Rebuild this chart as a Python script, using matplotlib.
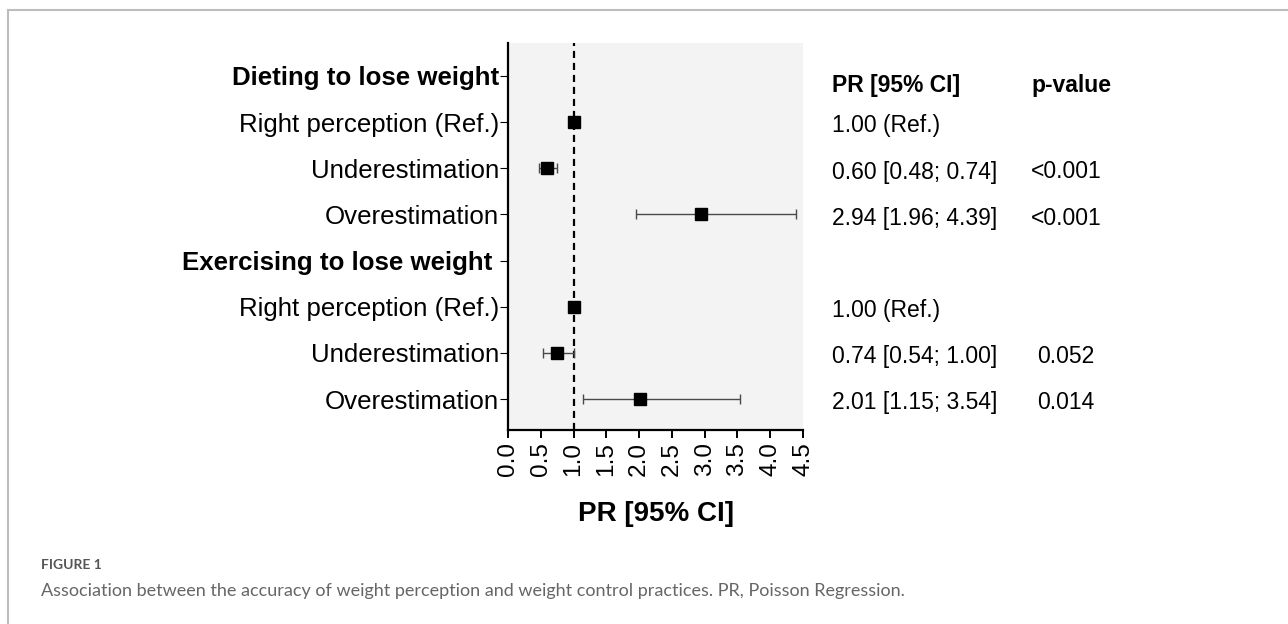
import numpy as np
import matplotlib
matplotlib.use('Agg')
import matplotlib.pyplot as plt
import matplotlib.transforms as mtransforms
from matplotlib.lines import Line2D

plt.rcParams['font.family'] = ['Liberation Sans', 'DejaVu Sans']

# Datos
labels = ["Dieting to lose weight", "Right perception (Ref.)", "Underestimation",
          "Overestimation", "Exercising to lose weight ", "Right perception (Ref.)",
          "Underestimation", "Overestimation"]
is_header = [True, False, False, False, True, False, False, False]
pr = [np.nan, 1.00, 0.60, 2.94, np.nan, 1.00, 0.74, 2.01]
ci_lo = [np.nan, np.nan, 0.48, 1.96, np.nan, np.nan, 0.54, 1.15]
ci_hi = [np.nan, np.nan, 0.74, 4.39, np.nan, np.nan, 1.00, 3.54]
pr_text = ["", "1.00 (Ref.)", "0.60 [0.48; 0.74]", "2.94 [1.96; 4.39]",
           "", "1.00 (Ref.)", "0.74 [0.54; 1.00]", "2.01 [1.15; 3.54]"]
p_text = ["", "", "<0.001", "<0.001", "", "", "0.052", "0.014"]
x_ticks = [0.0, 0.5, 1.0, 1.5, 2.0, 2.5, 3.0, 3.5, 4.0, 4.5]

W, H = 1288, 624
fig = plt.figure(figsize=(W / 100, H / 100), dpi=100)
ax = fig.add_axes([508 / W, 1 - 430 / H, 295 / W, 387 / H])
ax.set_facecolor('#f3f3f3')

y = np.arange(len(labels))
pr_a = np.array(pr)
err = np.array([pr_a - np.array(ci_lo), np.array(ci_hi) - pr_a])
err = np.nan_to_num(err, nan=0.0)

# Barras de error (solo filas con IC)
has_ci = ~np.isnan(np.array(ci_lo))
ax.errorbar(pr_a[has_ci], y[has_ci], xerr=err[:, has_ci], fmt='none',
            ecolor='#4a4a4a', elinewidth=1.0, capsize=3.6, capthick=1.0, zorder=2)
ax.plot(pr_a, y, 's', color='black', markersize=8, zorder=3, linestyle='none')

ax.axvline(1.0, color='black', linestyle=(0, (3.2, 2.2)), linewidth=1.6, zorder=1)

ax.set_xlim(0, 4.5)
ax.set_ylim(len(labels) - 1 + 0.67, -0.715)
ax.set_xticks(x_ticks)
ax.set_xticklabels([f'{v:.1f}' for v in x_ticks], rotation=90, fontsize=17.6)
ax.set_yticks(y)
ax.set_yticklabels(labels, fontsize=18.6)
for lab, hdr in zip(ax.get_yticklabels(), is_header):
    if hdr:
        lab.set_fontweight('bold')

for s in ['top', 'right']:
    ax.spines[s].set_visible(False)
ax.spines['left'].set_linewidth(1.6)
ax.spines['bottom'].set_linewidth(1.6)
ax.tick_params(axis='y', length=5.8, width=0.8, pad=0.5)
ax.tick_params(axis='x', length=5.8, width=1.4, pad=3)
ax.set_xlabel('PR [95% CI]', fontsize=20, fontweight='bold', labelpad=18)

# Columnas de texto a la derecha
trans = mtransforms.blended_transform_factory(fig.transFigure, ax.transData)
ax.text(832 / W, 0.2, 'PR [95% CI]', transform=trans, fontsize=16.5,
        fontweight='bold', ha='left', va='center', clip_on=False)
ax.text(1071 / W, 0.2, 'p-value', transform=trans, fontsize=16.5,
        fontweight='bold', ha='center', va='center', clip_on=False)
for yi, t, p in zip(y, pr_text, p_text):
    if t:
        ax.text(832 / W, yi + 0.08, t, transform=trans, fontsize=16.5,
                ha='left', va='center', clip_on=False)
    if p:
        ax.text(1066 / W, yi + 0.08, p, transform=trans, fontsize=16.5,
                ha='center', va='center', clip_on=False)

# Marco y pie de figura
fig.add_artist(Line2D([7.5 / W, 1], [1 - 10 / H, 1 - 10 / H], transform=fig.transFigure,
                      color='#bdbdbd', linewidth=1.5))
fig.add_artist(Line2D([7.5 / W, 7.5 / W], [0, 1 - 10 / H], transform=fig.transFigure,
                      color='#bdbdbd', linewidth=1.5))
fig.text(41 / W, 1 - 565 / H, 'FIGURE 1', fontsize=10, fontweight='bold',
         color='#555555', family=['Lato', 'DejaVu Sans'], ha='left', va='center')
fig.text(41 / W, 1 - 591 / H,
         'Association between the accuracy of weight perception and weight control practices. '
         'PR, Poisson Regression.',
         fontsize=13, color='#666666', family=['Lato', 'DejaVu Sans'], ha='left', va='center')

fig.savefig('out.png', dpi=100)
